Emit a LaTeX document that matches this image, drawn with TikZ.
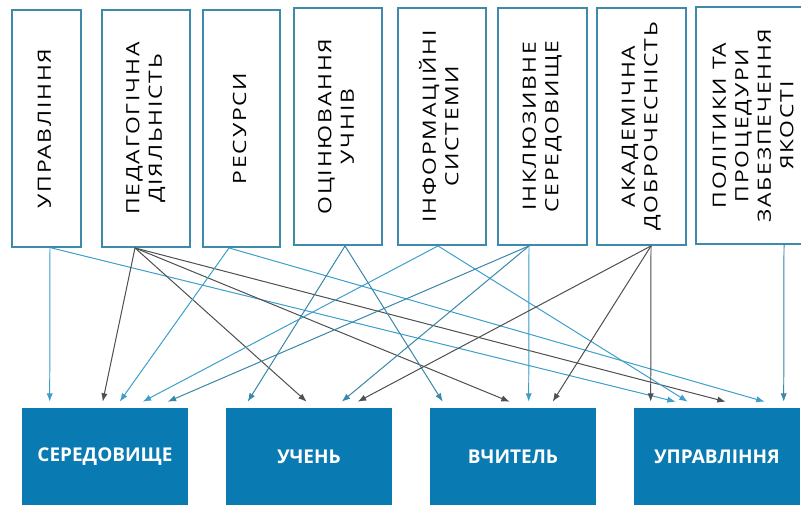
\documentclass[tikz,border=0pt]{standalone}
\usepackage{fontspec}
\setmainfont{Open Sans}
\newfontfamily\topfont[LetterSpace=8]{Open Sans}
\usetikzlibrary{calc,arrows.meta}
\definecolor{frame}{HTML}{3D8AAA}
\definecolor{fillb}{HTML}{0A7AB2}
\definecolor{lb}{HTML}{3E9FCB}
\definecolor{tl}{HTML}{3A88A8}
\definecolor{dk}{HTML}{505050}
\newcommand{\vlab}[1]{\rotatebox{90}{\scalebox{1.25}[1]{\begin{tabular}{@{}c@{}}#1\end{tabular}}}}
\tikzset{
  topbox/.style={draw=frame,line width=1.3pt,fill=white,minimum height=5.925cm,inner sep=0pt,
    font=\topfont\fontsize{13}{16}\selectfont},
  btmbox/.style={fill=fillb,minimum width=4.15cm,minimum height=2.425cm,inner sep=0pt,
    text=white,font=\bfseries\fontsize{13.5}{16}\selectfont},
  arr/.style={-{Latex[length=6pt,width=4.5pt]},line width=0.7pt}
}
\begin{document}
\begin{tikzpicture}[x=0.025cm,y=-0.025cm]
\useasboundingbox (0,0) rectangle (801,505);
\clip (0,0) rectangle (801,505);
% factors
\node[topbox,minimum width=1.725cm] (upr)  at (46.5,128.5) {\vlab{УПРАВЛІННЯ}};
\node[topbox,minimum width=2.2cm]   (ped)  at (146,128.5)  {\vlab{ПЕДАГОГІЧНА\\ДІЯЛЬНІСТЬ}};
\node[topbox,minimum width=1.925cm] (res)  at (241.5,128.5) {\vlab{РЕСУРСИ}};
\node[topbox,minimum width=2.2cm]   (ots)  at (338,126.5)  {\vlab{ОЦІНЮВАННЯ\\УЧНІВ}};
\node[topbox,minimum width=2.2cm]   (inf)  at (442,126.5)  {\vlab{ІНФОРМАЦІЙНІ\\СИСТЕМИ}};
\node[topbox,minimum width=2.225cm] (inkl) at (542.5,126.5) {\vlab{ІНКЛЮЗИВНЕ\\СЕРЕДОВИЩЕ}};
\node[topbox,minimum width=2.225cm] (akad) at (641.5,126.5) {\vlab{АКАДЕМІЧНА\\ДОБРОЧЕСНІСТЬ}};
\node[topbox,minimum width=2.95cm]  (pol)  at (755,125.5)  {\vlab{ПОЛІТИКИ ТА\\ПРОЦЕДУРИ\\ЗАБЕЗПЕЧЕННЯ\\ЯКОСТІ}};
% targets
\node[btmbox] (ser) at (105,456.5) {СЕРЕДОВИЩЕ};
\node[btmbox] (uch) at (309,456.5) {УЧЕНЬ};
\node[btmbox] (vch) at (513,456.5) {ВЧИТЕЛЬ};
\node[btmbox] (upb) at (717,456.5) {УПРАВЛІННЯ};
% links: source/shift/target/offset/colour
\foreach \s/\dx/\t/\tx/\c in {upr/3.5/ser/28/lb, upr/5/upb/42/lb,
  ped/-11/ser/81/dk, ped/-11/uch/81/dk, ped/-11/vch/80/dk, ped/-11/upb/92/dk,
  res/-12.5/ser/98/lb, res/-12.5/upb/131/lb,
  ots/7/uch/22/tl, ots/7/vch/13/tl,
  inf/-4/ser/121/lb, inf/-4/upb/54/lb,
  inkl/-13.5/ser/146/tl, inkl/-13.5/uch/116/tl, inkl/-13.5/vch/99/lb,
  akad/9.5/uch/132/dk, akad/9.5/vch/123/dk, akad/9.5/upb/17/dk,
  pol/29/upb/150/tl}
  \draw[arr,draw=\c,fill=\c] ($(\s.south)+(\dx,0)$) -- ($(\t.north west)+(\tx,-6)$);
\end{tikzpicture}
\end{document}
